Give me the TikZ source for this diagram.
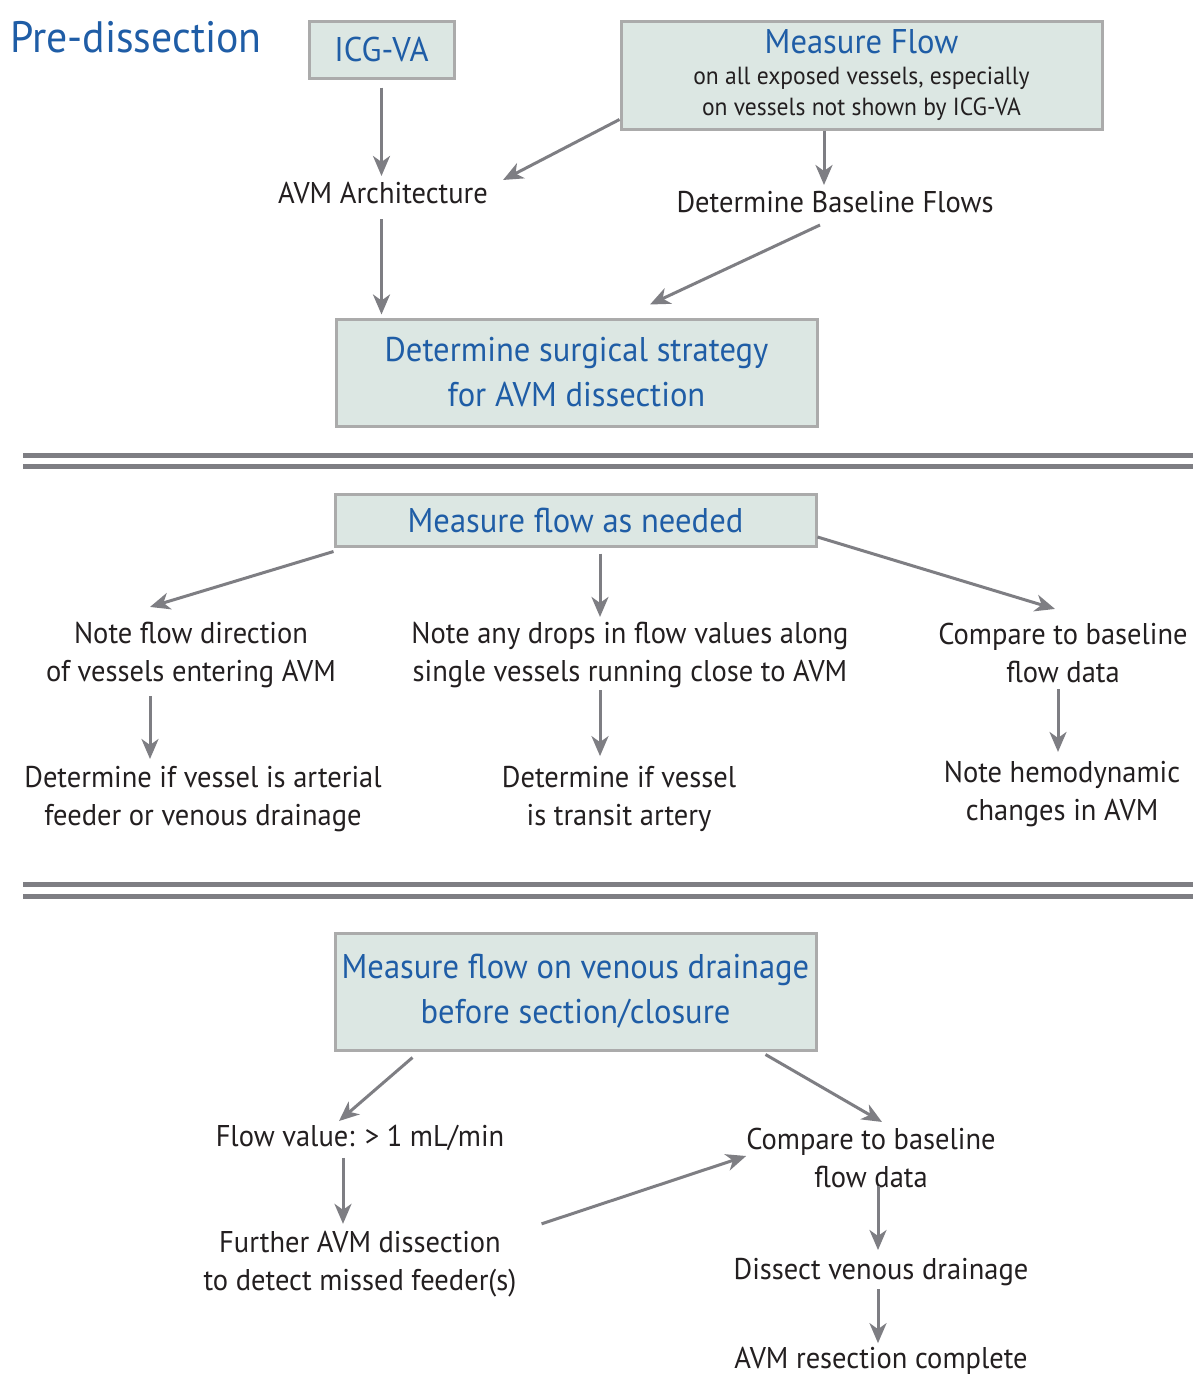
\documentclass[tikz,border=0pt]{standalone}
\usepackage{fontspec}
\setmainfont{PT Sans}[FakeStretch=0.95]
\usetikzlibrary{arrows.meta}
\definecolor{hblue}{HTML}{1F5DA6}
\definecolor{ink}{HTML}{231F20}
\definecolor{boxfill}{HTML}{DCE7E3}
\definecolor{boxline}{HTML}{ABABAB}
\definecolor{arrgray}{HTML}{7E7E83}
\begin{document}
\begin{tikzpicture}[x=1pt,y=-1pt,
  box/.style={draw=boxline, line width=3pt, fill=boxfill, inner sep=0pt, text=hblue, align=center, font=\fontsize{34.3}{44}\selectfont},
  body/.style={text=ink, inner sep=0pt, align=center, font=\fontsize{30}{38}\selectfont},
  arr/.style={draw=arrgray, line width=3pt, -{Stealth[length=20pt,width=17pt,inset=6pt]}},
  sepline/.style={draw=arrgray, line width=5pt}]
\useasboundingbox[fill=white] (0,0) rectangle (1193,1377);

% ---------- Section 1 ----------
\node[anchor=base west, inner sep=0pt, text=hblue, font=\fontsize{44}{50}\selectfont] (title) at (10,52) {Pre-dissection};
\node[box, minimum width=145pt, minimum height=57pt] (icg) at (381.5,49.5) {ICG-VA};
\node[box, minimum width=481pt, minimum height=108pt, font=\fontsize{24.8}{31}\selectfont] (mf) at (861.5,75)
  {{\fontsize{34.3}{38}\selectfont Measure Flow}\\ {\color{ink}on all exposed vessels, especially}\\ {\color{ink}on vessels not shown by ICG-VA}};
\node[body] (arch) at (383,193) {AVM Architecture};
\node[body] (base) at (835,202) {Determine Baseline Flows};
\node[box, minimum width=481pt, minimum height=107pt, font=\fontsize{34.3}{45}\selectfont] (strat) at (576.5,372.5) {Determine surgical strategy\\for AVM dissection};

\draw[arr, shorten <=8pt, shorten >=6pt] (icg.south) -- (arch.north -| icg.south);
\draw[arr] ([yshift=11pt]mf.south west) -- ([xshift=15pt,yshift=2pt]arch.north east);
\draw[arr, shorten >=6pt] ([xshift=-37.5pt]mf.south) -- ([xshift=-37.5pt]mf.south |- base.north);
\draw[arr, shorten <=15pt, shorten >=3pt] (arch.south -| icg.south) -- (strat.north -| icg.south);
\draw[arr] ([xshift=-15pt,yshift=-12pt]base.south) -- ([xshift=73.5pt,yshift=13pt]strat.north);

% separators
\draw[sepline] (23,455) -- (1193,455);
\draw[sepline] (23,466) -- (1193,466);

% ---------- Section 2 ----------
\node[box, minimum width=481pt, minimum height=52pt] (needed) at (575.5,520) {Measure flow as needed};
\node[body] (n1) at (191,655) {Note flow direction\\of vessels entering AVM};
\node[body] (n2) at (630,655) {Note any drops in flow values along\\single vessels running close to AVM};
\node[body] (n3) at (1063,653) {Compare to baseline\\flow data};
\node[body] (d1) at (203,799) {Determine if vessel is arterial\\feeder or venous drainage};
\node[body] (d2) at (619,799) {Determine if vessel\\is transit artery};
\node[body] (d3) at (1062,794) {Note hemodynamic\\changes in AVM};

\draw[arr] ([yshift=-4pt]needed.south west) -- ([xshift=-41pt,yshift=15pt]n1.north);
\draw[arr, shorten <=6pt, shorten >=5pt] ([xshift=24.5pt]needed.south) -- ([xshift=24.5pt]needed.south |- n2.north);
\draw[arr] ([yshift=-17pt]needed.east) -- ([xshift=-8pt,yshift=14pt]n3.north);
\draw[arr, shorten <=8pt, shorten >=7pt] ([xshift=-41pt]n1.south) -- ([xshift=-41pt]n1.south |- d1.north);
\draw[arr, shorten <=2pt, shorten >=10pt] ([xshift=-30pt]n2.south) -- ([xshift=-30pt]n2.south |- d2.north);
\draw[arr, shorten <=6pt, shorten >=9pt] ([xshift=-5pt]n3.south) -- ([xshift=-5pt]n3.south |- d3.north);

% separators
\draw[sepline] (23,884) -- (1193,884);
\draw[sepline] (23,896.5) -- (1193,896.5);

% ---------- Section 3 ----------
\node[box, minimum width=481pt, minimum height=117pt, font=\fontsize{34.3}{45}\selectfont] (ven) at (575.5,991.5) {Measure flow on venous drainage\\before section/closure};
\node[body] (fv) at (360,1138) {Flow value: > 1 mL/min};
\node[body] (cb) at (871,1158) {Compare to baseline\\flow data};
\node[body] (fad) at (360,1264) {Further AVM dissection\\to detect missed feeder(s)};
\node[body] (dvd) at (881,1272) {Dissect venous drainage};
\node[body] (done) at (881,1361) {AVM resection complete};

\draw[arr] ([xshift=79pt,yshift=-6pt]ven.south west) -- ([xshift=-21pt,yshift=4pt]fv.north);
\draw[arr] ([xshift=-52pt,yshift=-3pt]ven.south east) -- ([xshift=11pt,yshift=6pt]cb.north);
\draw[arr, shorten <=7pt, shorten >=7pt] ([xshift=-17pt]fv.south) -- ([xshift=-17pt]fv.south |- fad.north);
\draw[arr] ([xshift=25pt,yshift=7pt]fad.north east) -- ([yshift=2pt]cb.west);
\draw[arr, shorten >=8pt] ([xshift=7pt,yshift=2pt]cb.south) -- ([xshift=7pt]cb.south |- dvd.north);
\draw[arr, shorten <=3pt, shorten >=4pt] ([xshift=-3pt]dvd.south) -- ([xshift=-3pt]dvd.south |- done.north);
\end{tikzpicture}
\end{document}
